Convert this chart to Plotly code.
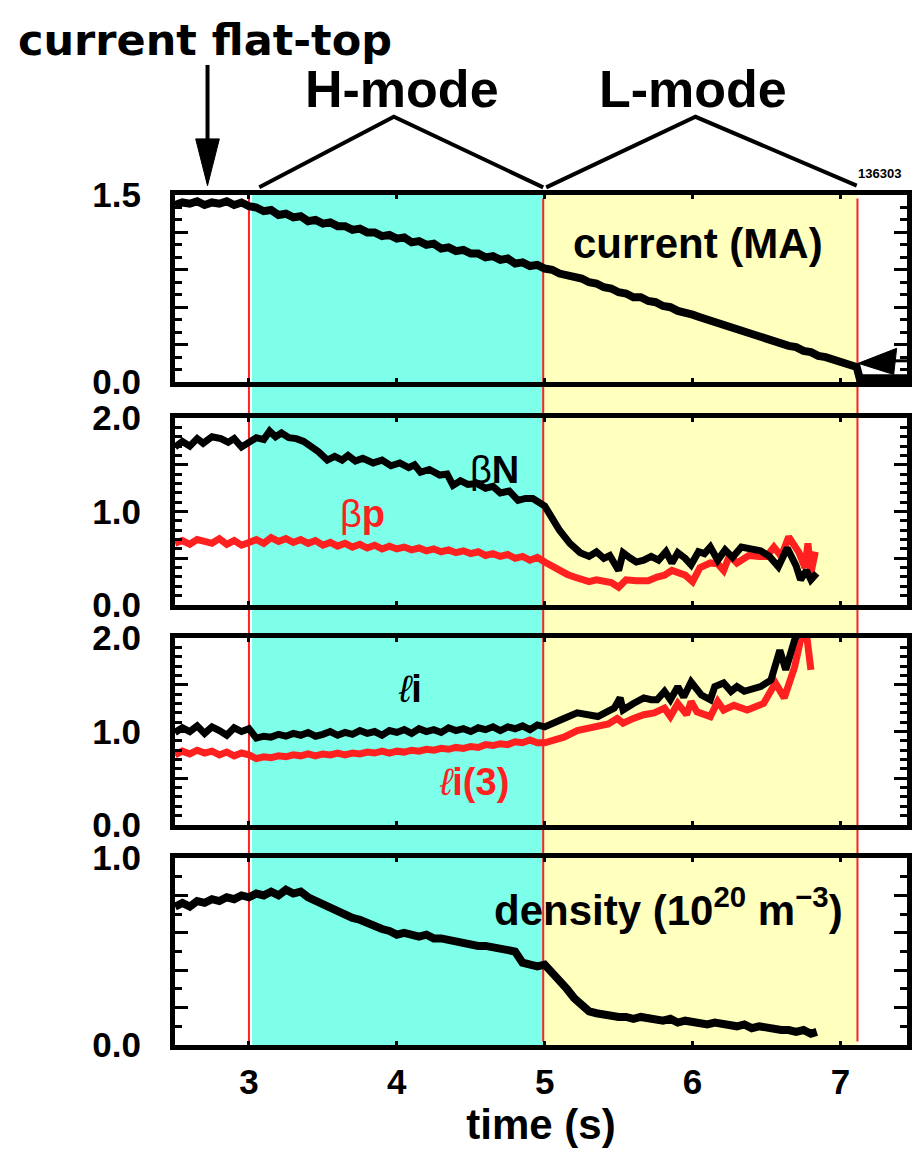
import plotly.graph_objects as go

# ---------------- data ----------------
t_current = [2.50, 2.55, 2.60, 2.65, 2.70, 2.75, 2.80, 2.85, 2.90, 2.95, 3.00,
             3.05, 3.10, 3.15, 3.20, 3.25, 3.30, 3.35, 3.40, 3.45, 3.50,
             3.55, 3.60, 3.65, 3.70, 3.75, 3.80, 3.85, 3.90, 3.95, 4.00,
             4.05, 4.10, 4.15, 4.20, 4.25, 4.30, 4.35, 4.40, 4.45, 4.50,
             4.55, 4.60, 4.65, 4.70, 4.75, 4.80, 4.85, 4.90, 4.95, 5.00,
             5.05, 5.10, 5.15, 5.20, 5.25, 5.30, 5.35, 5.40, 5.45, 5.50,
             5.55, 5.60, 5.65, 5.70, 5.75, 5.80, 5.85, 5.90, 5.95, 6.00,
             6.05, 6.10, 6.15, 6.20, 6.25, 6.30, 6.35, 6.40, 6.45, 6.50,
             6.55, 6.60, 6.65, 6.70, 6.75, 6.80, 6.85, 6.90, 6.95, 7.00,
             7.05, 7.08, 7.11, 7.13, 7.45]
current_MA = [1.42, 1.44, 1.43, 1.45, 1.42, 1.44, 1.43, 1.45, 1.42, 1.44, 1.41,
              1.40, 1.37, 1.38, 1.34, 1.35, 1.32, 1.33, 1.29, 1.30, 1.27,
              1.28, 1.25, 1.25, 1.22, 1.23, 1.20, 1.20, 1.17, 1.18, 1.15,
              1.16, 1.12, 1.13, 1.10, 1.11, 1.07, 1.08, 1.05, 1.06, 1.03,
              1.03, 1.00, 1.01, 0.98, 0.99, 0.95, 0.96, 0.93, 0.94, 0.91,
              0.90, 0.87, 0.86, 0.84, 0.83, 0.80, 0.79, 0.76, 0.75, 0.72,
              0.71, 0.68, 0.68, 0.65, 0.64, 0.61, 0.60, 0.57, 0.56, 0.54,
              0.52, 0.50, 0.49, 0.46, 0.45, 0.42, 0.41, 0.38, 0.37, 0.35,
              0.33, 0.31, 0.29, 0.28, 0.25, 0.24, 0.21, 0.20, 0.18, 0.16,
              0.14, 0.13, 0.12, 0.03, 0.03]

t_betaN = [2.50, 2.55, 2.60, 2.65, 2.69, 2.75, 2.81, 2.86, 2.90, 2.95, 3.00,
           3.05, 3.10, 3.14, 3.18, 3.22, 3.27, 3.32, 3.37, 3.42, 3.47, 3.53,
           3.58, 3.63, 3.67, 3.72, 3.77, 3.84, 3.90, 3.96, 4.02, 4.08, 4.12,
           4.16, 4.22, 4.29, 4.34, 4.38, 4.43, 4.48, 4.54, 4.60, 4.65, 4.70,
           4.76, 4.82, 4.87, 4.92, 4.96, 5.00, 5.05, 5.10, 5.17, 5.24, 5.30,
           5.35, 5.40, 5.44, 5.50, 5.53, 5.58, 5.62, 5.67, 5.72, 5.77, 5.82,
           5.86, 5.90, 5.95, 5.99, 6.04, 6.08, 6.12, 6.17, 6.22, 6.27, 6.33,
           6.40, 6.46, 6.52, 6.58, 6.64, 6.70, 6.73, 6.77, 6.80, 6.84]
betaN = [1.69, 1.75, 1.70, 1.78, 1.73, 1.80, 1.78, 1.74, 1.78, 1.69, 1.74,
         1.79, 1.77, 1.86, 1.80, 1.84, 1.79, 1.78, 1.75, 1.70, 1.64, 1.55,
         1.59, 1.55, 1.60, 1.54, 1.57, 1.52, 1.55, 1.49, 1.52, 1.47, 1.50,
         1.42, 1.45, 1.39, 1.40, 1.28, 1.33, 1.29, 1.30, 1.25, 1.27, 1.20,
         1.22, 1.12, 1.14, 1.14, 1.09, 1.06, 0.93, 0.80, 0.66, 0.56, 0.52,
         0.57, 0.50, 0.53, 0.37, 0.56, 0.50, 0.46, 0.48, 0.52, 0.48, 0.57,
         0.45, 0.56, 0.50, 0.43, 0.57, 0.55, 0.62, 0.48, 0.59, 0.51, 0.62,
         0.60, 0.58, 0.52, 0.41, 0.61, 0.42, 0.27, 0.37, 0.27, 0.34]

t_betap = [2.50, 2.55, 2.60, 2.65, 2.70, 2.75, 2.80, 2.85, 2.90, 2.95, 3.00,
           3.05, 3.10, 3.15, 3.20, 3.25, 3.30, 3.35, 3.40, 3.45, 3.50, 3.55,
           3.60, 3.65, 3.70, 3.75, 3.80, 3.85, 3.90, 3.95, 4.00, 4.05, 4.10,
           4.15, 4.20, 4.25, 4.30, 4.35, 4.40, 4.45, 4.50, 4.55, 4.60, 4.65,
           4.70, 4.75, 4.80, 4.85, 4.90, 4.95, 5.00, 5.05, 5.10, 5.15, 5.20,
           5.25, 5.30, 5.35, 5.40, 5.45, 5.50, 5.55, 5.62, 5.70, 5.76, 5.81,
           5.86, 5.90, 5.95, 6.00, 6.05, 6.12, 6.17, 6.21, 6.25, 6.30, 6.38,
           6.45, 6.50, 6.55, 6.60, 6.65, 6.72, 6.76, 6.78, 6.80, 6.83]
betap = [0.66, 0.69, 0.65, 0.70, 0.68, 0.66, 0.71, 0.65, 0.69, 0.64, 0.67,
         0.70, 0.66, 0.72, 0.68, 0.71, 0.67, 0.70, 0.66, 0.69, 0.64, 0.67,
         0.63, 0.66, 0.62, 0.65, 0.61, 0.64, 0.60, 0.63, 0.60, 0.62, 0.59,
         0.61, 0.58, 0.60, 0.57, 0.59, 0.56, 0.58, 0.55, 0.57, 0.53, 0.55,
         0.52, 0.54, 0.50, 0.52, 0.48, 0.51, 0.46, 0.41, 0.36, 0.33, 0.30,
         0.28, 0.25, 0.27, 0.26, 0.24, 0.19, 0.27, 0.26, 0.26, 0.30, 0.32,
         0.37, 0.34, 0.32, 0.25, 0.40, 0.45, 0.44, 0.37, 0.53, 0.45, 0.53,
         0.52, 0.52, 0.62, 0.52, 0.73, 0.56, 0.40, 0.66, 0.34, 0.57]

t_li = [2.50, 2.55, 2.60, 2.65, 2.70, 2.75, 2.80, 2.85, 2.90, 2.95, 3.00,
        3.05, 3.10, 3.15, 3.20, 3.25, 3.30, 3.35, 3.40, 3.45, 3.50, 3.55,
        3.60, 3.65, 3.70, 3.75, 3.80, 3.85, 3.90, 3.95, 4.00, 4.05, 4.10,
        4.15, 4.20, 4.25, 4.30, 4.35, 4.40, 4.45, 4.50, 4.55, 4.60, 4.65,
        4.70, 4.75, 4.80, 4.85, 4.90, 4.95, 5.00, 5.06, 5.13, 5.22, 5.29,
        5.36, 5.42, 5.47, 5.51, 5.53, 5.60, 5.67, 5.72, 5.76, 5.81, 5.85,
        5.90, 5.94, 5.99, 6.06, 6.12, 6.15, 6.21, 6.26, 6.30, 6.35, 6.46,
        6.53, 6.59, 6.63, 6.69, 6.71]
li = [0.99, 1.04, 1.00, 1.06, 0.98, 1.05, 1.01, 0.96, 1.04, 1.00, 1.03,
      0.93, 0.95, 0.94, 0.97, 0.95, 0.98, 0.96, 0.99, 0.95, 0.97, 1.00,
      0.96, 0.99, 0.97, 1.01, 0.98, 1.00, 0.96, 1.01, 0.99, 1.02, 0.98,
      1.03, 1.00, 1.02, 0.99, 1.04, 1.01, 1.03, 1.00, 1.04, 1.02, 1.05,
      1.01, 1.05, 1.03, 1.06, 1.02, 1.07, 1.05, 1.10, 1.14, 1.20, 1.18,
      1.16, 1.21, 1.25, 1.36, 1.23, 1.30, 1.36, 1.34, 1.34, 1.43, 1.34,
      1.48, 1.37, 1.53, 1.39, 1.34, 1.48, 1.52, 1.43, 1.48, 1.43, 1.48,
      1.55, 1.87, 1.66, 1.98, 2.05]

t_li3 = [2.50, 2.55, 2.60, 2.65, 2.70, 2.75, 2.80, 2.85, 2.90, 2.95, 3.00,
         3.05, 3.10, 3.15, 3.20, 3.25, 3.30, 3.35, 3.40, 3.45, 3.50, 3.55,
         3.60, 3.65, 3.70, 3.75, 3.80, 3.85, 3.90, 3.95, 4.00, 4.05, 4.10,
         4.15, 4.20, 4.25, 4.30, 4.35, 4.40, 4.45, 4.50, 4.55, 4.60, 4.65,
         4.70, 4.75, 4.80, 4.85, 4.90, 4.95, 5.00, 5.06, 5.13, 5.22, 5.29,
         5.36, 5.43, 5.49, 5.53, 5.60, 5.67, 5.74, 5.81, 5.85, 5.90, 5.96,
         5.99, 6.03, 6.12, 6.17, 6.21, 6.28, 6.37, 6.48, 6.56, 6.62, 6.69,
         6.74, 6.77, 6.80]
li3 = [0.75, 0.79, 0.76, 0.80, 0.77, 0.79, 0.75, 0.78, 0.74, 0.77, 0.75,
       0.71, 0.73, 0.72, 0.74, 0.73, 0.75, 0.74, 0.76, 0.74, 0.76, 0.75,
       0.77, 0.75, 0.77, 0.76, 0.78, 0.77, 0.79, 0.77, 0.79, 0.78, 0.80,
       0.79, 0.81, 0.80, 0.82, 0.81, 0.83, 0.82, 0.84, 0.83, 0.86, 0.85,
       0.87, 0.86, 0.89, 0.88, 0.91, 0.88, 0.88, 0.90, 0.94, 1.01, 1.03,
       1.05, 1.08, 1.14, 1.09, 1.14, 1.18, 1.20, 1.25, 1.16, 1.30, 1.18,
       1.32, 1.21, 1.16, 1.32, 1.23, 1.28, 1.23, 1.30, 1.52, 1.36, 1.69,
       2.05, 2.05, 1.66]

t_density = [2.50, 2.55, 2.60, 2.65, 2.70, 2.75, 2.80, 2.85, 2.90, 2.95, 3.00,
             3.05, 3.10, 3.15, 3.20, 3.25, 3.30, 3.35, 3.40, 3.45, 3.50,
             3.55, 3.60, 3.65, 3.70, 3.75, 3.80, 3.85, 3.90, 3.95, 4.00,
             4.05, 4.10, 4.15, 4.20, 4.25, 4.30, 4.35, 4.40, 4.45, 4.50,
             4.55, 4.60, 4.65, 4.70, 4.75, 4.80, 4.85, 4.90, 4.95, 5.00,
             5.05, 5.10, 5.15, 5.20, 5.25, 5.30, 5.35, 5.40, 5.45, 5.50,
             5.55, 5.60, 5.65, 5.70, 5.75, 5.80, 5.85, 5.90, 5.95, 6.00,
             6.05, 6.10, 6.15, 6.20, 6.25, 6.30, 6.35, 6.40, 6.45, 6.50,
             6.55, 6.60, 6.65, 6.70, 6.75, 6.80, 6.84]
density = [0.74, 0.76, 0.74, 0.77, 0.76, 0.78, 0.77, 0.79, 0.78, 0.80, 0.79,
           0.81, 0.80, 0.82, 0.80, 0.83, 0.81, 0.82, 0.79, 0.77, 0.75,
           0.73, 0.71, 0.70, 0.68, 0.67, 0.65, 0.64, 0.62, 0.61, 0.59,
           0.60, 0.59, 0.58, 0.59, 0.57, 0.57, 0.56, 0.55, 0.55, 0.54,
           0.53, 0.53, 0.52, 0.51, 0.51, 0.50, 0.44, 0.43, 0.42, 0.43,
           0.39, 0.35, 0.30, 0.25, 0.21, 0.18, 0.17, 0.16, 0.16, 0.15,
           0.15, 0.14, 0.15, 0.14, 0.13, 0.13, 0.14, 0.12, 0.13, 0.12,
           0.12, 0.11, 0.12, 0.11, 0.11, 0.10, 0.11, 0.09, 0.10, 0.09,
           0.09, 0.08, 0.08, 0.07, 0.08, 0.06, 0.07]

# phase boundaries (s)
h_mode_start = 3.02
l_mode_start = 4.99
ramp_end = 7.115
red_lines = [3.0, 4.99, 7.115]

x_ticks = [3, 4, 5, 6, 7]
y1_ticks = [0.0, 0.3, 0.6, 0.9, 1.2, 1.5]
y1_text = ["0.0", "", "", "", "", "1.5"]
y2_ticks = [0.0, 0.5, 1.0, 1.5, 2.0]
y2_text = ["0.0", "", "1.0", "", "2.0"]
y4_ticks = [0.0, 0.2, 0.4, 0.6, 0.8, 1.0]
y4_text = ["0.0", "", "", "", "", "1.0"]

# ---------------- figure ----------------
BLACK = "black"
RED = "#ff2020"
CYAN = "#7dffe9"
YELLOW = "#ffffbe"
FONT = "Liberation Sans"
NARROW = "Liberation Sans Narrow, Liberation Sans"

fig = go.Figure()
fig.add_trace(go.Scatter(x=t_current, y=current_MA, xaxis="x", yaxis="y",
                         mode="lines", line=dict(color=BLACK, width=8)))
fig.add_trace(go.Scatter(x=t_betap, y=betap, xaxis="x2", yaxis="y2",
                         mode="lines", line=dict(color=RED, width=7)))
fig.add_trace(go.Scatter(x=t_betaN, y=betaN, xaxis="x2", yaxis="y2",
                         mode="lines", line=dict(color=BLACK, width=7)))
fig.add_trace(go.Scatter(x=t_li3, y=li3, xaxis="x3", yaxis="y3",
                         mode="lines", line=dict(color=RED, width=7)))
fig.add_trace(go.Scatter(x=t_li, y=li, xaxis="x3", yaxis="y3",
                         mode="lines", line=dict(color=BLACK, width=7)))
fig.add_trace(go.Scatter(x=t_density, y=density, xaxis="x4", yaxis="y4",
                         mode="lines", line=dict(color=BLACK, width=8)))

tickfont = dict(family=NARROW, size=35, color=BLACK, weight="bold")

def xax(show_labels, anchor):
    return dict(range=[2.5, 7.45], domain=[0, 1], anchor=anchor,
                showline=True, linewidth=5, linecolor=BLACK, mirror="ticks",
                ticks="inside", tickvals=x_ticks, ticklen=4, tickwidth=3,
                tickcolor=BLACK, showticklabels=show_labels, tickfont=tickfont,
                showgrid=False, zeroline=False, ticklabelstandoff=2)

def yax(rng, dom, vals, text, minor_dt, anchor):
    return dict(range=rng, domain=dom, anchor=anchor,
                showline=True, linewidth=5, linecolor=BLACK, mirror="ticks",
                ticks="inside", tickvals=vals, ticktext=text, ticklen=13,
                tickwidth=3, tickcolor=BLACK, tickfont=tickfont,
                minor=dict(dtick=minor_dt, tick0=0, ticks="inside", ticklen=7,
                           tickwidth=3, tickcolor=BLACK, showgrid=False),
                showgrid=False, zeroline=False, ticklabelstandoff=22)

shapes = []
for x0, x1, col in [(h_mode_start, l_mode_start, CYAN), (l_mode_start, ramp_end, YELLOW)]:
    shapes.append(dict(type="rect", xref="x", yref="paper", x0=x0, x1=x1,
                       y0=0, y1=1, fillcolor=col, line=dict(width=0), layer="below"))
for xr in red_lines:
    shapes.append(dict(type="line", xref="x", yref="paper", x0=xr, x1=xr,
                       y0=0.004, y1=0.996, line=dict(color=RED, width=2), layer="below"))
# H-mode / L-mode brackets
shapes.append(dict(type="path", xref="x", yref="paper",
                   path="M 3.07,1.009 L 3.98,1.092 L 4.99,1.009",
                   line=dict(color=BLACK, width=4)))
shapes.append(dict(type="path", xref="x", yref="paper",
                   path="M 5.01,1.009 L 6.02,1.092 L 7.11,1.011",
                   line=dict(color=BLACK, width=4)))
# "current flat-top" arrow (shaft + narrow head)
shapes.append(dict(type="line", xref="x", yref="paper", x0=2.72, x1=2.72,
                   y0=1.06, y1=1.153, line=dict(color=BLACK, width=4)))
shapes.append(dict(type="path", xref="x", yref="paper",
                   path="M 2.64,1.066 L 2.80,1.066 L 2.72,1.011 Z",
                   fillcolor=BLACK, line=dict(color=BLACK, width=1)))
# arrow marking the end of the current ramp
shapes.append(dict(type="path", xref="x", yref="y",
                   path="M 7.12,0.15 L 7.38,0.27 L 7.36,0.06 Z",
                   fillcolor=BLACK, line=dict(color=BLACK, width=1)))
shapes.append(dict(type="line", xref="x", yref="y", x0=7.36, x1=7.45,
                   y0=0.17, y1=0.17, line=dict(color=BLACK, width=3)))

big = dict(family=FONT, size=42, color=BLACK, weight="bold")
C = dict(xanchor="center", yanchor="middle", showarrow=False)
annotations = [
    dict(text="current flat-top", xref="paper", yref="paper", x=0.041, y=1.182,
         font=dict(family="DejaVu Sans", size=43, color=BLACK, weight="bold"), **C),
    dict(text="H-mode", xref="paper", yref="paper", x=0.31, y=1.125,
         font=dict(family=FONT, size=52, color=BLACK, weight="bold"), **C),
    dict(text="L-mode", xref="paper", yref="paper", x=0.708, y=1.125,
         font=dict(family=FONT, size=52, color=BLACK, weight="bold"), **C),
    dict(text="136303", xref="paper", yref="paper", x=0.963, y=1.025,
         font=dict(family=FONT, size=13, color=BLACK, weight="bold"), **C),
    dict(text="current (MA)", xref="x", yref="y", x=6.04, y=1.11, font=big, **C),
    dict(text="β<b>N</b>", xref="x2", yref="y2", x=4.66, y=1.44,
         font=dict(family=FONT, size=38, color=BLACK), **C),
    dict(text="β<b>p</b>", xref="x2", yref="y2", x=3.77, y=0.97,
         font=dict(family=FONT, size=38, color=RED), **C),
    dict(text="<i>ℓ</i><b>i</b>", xref="x3", yref="y3", x=4.09, y=1.45,
         font=dict(family=FONT, size=38, color=BLACK), **C),
    dict(text="<i>ℓ</i><b>i(3)</b>", xref="x3", yref="y3", x=4.52, y=0.46,
         font=dict(family=FONT, size=38, color=RED), **C),
    dict(text="density (10<sup>20</sup> m<sup>−3</sup>)", xref="x4", yref="y4",
         x=5.84, y=0.74, font=big, **C),
]

fig.update_layout(
    width=917, height=1155,
    margin=dict(l=175, r=5, t=195, b=110),
    paper_bgcolor="white", plot_bgcolor="rgba(0,0,0,0)",
    showlegend=False,
    xaxis=xax(False, "y"),
    xaxis2=xax(False, "y2"),
    xaxis3=xax(False, "y3"),
    xaxis4=dict(xax(True, "y4"),
                title=dict(text="time (s)", standoff=4,
                           font=dict(family=NARROW, size=42, color=BLACK, weight="bold"))),
    yaxis=yax([0, 1.5], [0.78, 1.0], y1_ticks, y1_text, 0.1, "x"),
    yaxis2=yax([0, 2.0], [0.5176, 0.7376], y2_ticks, y2_text, 0.1, "x2"),
    yaxis3=yax([0, 2.0], [0.2588, 0.4788], y2_ticks, y2_text, 0.1, "x3"),
    yaxis4=yax([0, 1.0], [0.0, 0.22], y4_ticks, y4_text, 0.1, "x4"),
    shapes=shapes,
    annotations=annotations,
)

fig.write_html("out.html", config={"displayModeBar": False})
with open("out.html", encoding="utf-8") as f:
    html = f.read()
html = html.replace("<body>", '<body style="margin:0;padding:0;overflow:hidden">', 1)
with open("out.html", "w", encoding="utf-8") as f:
    f.write(html)
